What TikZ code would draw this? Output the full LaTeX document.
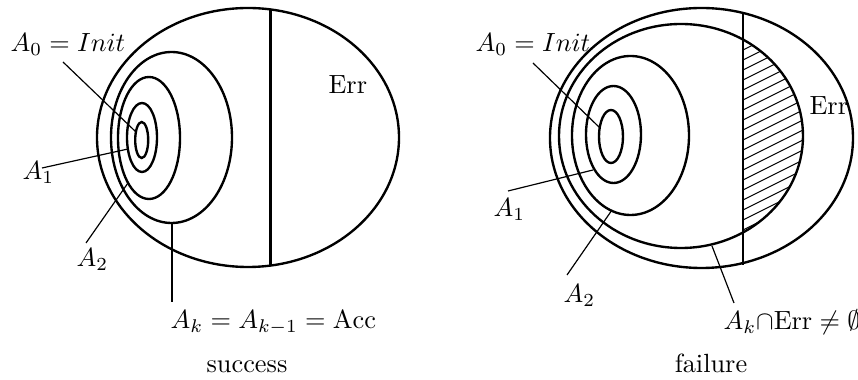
\documentclass[tikz,border=0pt]{standalone}
\begin{document}
\begin{tikzpicture}[x=0.38pt,y=-0.38pt,
  region/.style={line width=0.9pt},
  leader/.style={line width=0.45pt},
  lbl/.style={inner sep=0pt, anchor=base west},
  captxt/.style={inner sep=0pt, anchor=base},
  hatchline/.style={line width=0.4pt}]
\useasboundingbox (0,0) rectangle (858,380);
% ---------------- left: success ----------------
\draw[region] (248,137.5) ellipse [x radius=151, y radius=129.5];
\coordinate (lvtop) at (270.5,9.5);
\coordinate (lvbot) at (270.5,265.5);
\draw[region] (lvtop) -- (lvbot);
\draw[region] (171.5,137.5) ellipse [x radius=60.5, y radius=85.5];
\draw[region] (149,138) ellipse [x radius=31, y radius=61];
\draw[region] (142,137.5) ellipse [x radius=15, y radius=34.5];
\draw[region] (141.7,140) ellipse [x radius=6.5, y radius=18];
\node[lbl] (lA0) at (10,52) {$A_0 = Init$};
\node[lbl] (lA1) at (22,180) {$A_1$};
\node[lbl] (lA2) at (76,267) {$A_2$};
\node[lbl] (lAk) at (170,329) {$A_k = A_{k-1} = \mathrm{Acc}$};
\node[lbl] (lErr) at (328,94) {Err};
\node[captxt] (lcap) at (247,373) {success};
\coordinate (l0a) at (63,62);   \coordinate (l0b) at (136,132);
\coordinate (l1a) at (42,168);  \coordinate (l1b) at (128,149);
\coordinate (l2a) at (86,243);  \coordinate (l2b) at (128,183);
\coordinate (lka) at (172,223); \coordinate (lkb) at (172,302);
\draw[leader] (l0a) -- (l0b);
\draw[leader] (l1a) -- (l1b);
\draw[leader] (l2a) -- (l2b);
\draw[leader] (lka) -- (lkb);
% ---------------- right: failure ----------------
\begin{scope}
  \clip (743,0) rectangle (900,380);
  \clip (681,136) ellipse [x radius=122, y radius=112];
  \foreach \k in {-3,...,32} {
    \draw[hatchline] (743,50+10*\k) -- (830,50+10*\k-43.5);
  }
\end{scope}
\draw[region] (701.5,138) ellipse [x radius=151.5, y radius=130];
\draw[region] (681,136) ellipse [x radius=122, y radius=112];
\draw[region] (630.5,135.5) ellipse [x radius=58.5, y radius=79.5];
\draw[region] (613.5,134.5) ellipse [x radius=27.5, y radius=48.5];
\draw[region] (611,136.5) ellipse [x radius=12, y radius=26.5];
\coordinate (rvtop) at (743,13);
\coordinate (rvbot) at (743,265);
\draw[region] (rvtop) -- (rvbot);
\node[lbl] (rA0) at (475,52) {$A_0 = Init$};
\node[lbl] (rA1) at (493,217) {$A_1$};
\node[lbl] (rA2) at (563,303) {$A_2$};
\node[lbl] (rAk) at (723,330) {$A_k{\cap}\mathrm{Err} \neq \emptyset$};
\node[lbl] (rErr) at (809,115) {Err};
\node[captxt] (rcap) at (711,373) {failure};
\coordinate (r0a) at (533,63);  \coordinate (r0b) at (600,128);
\coordinate (r1a) at (508,191); \coordinate (r1b) at (593,170);
\coordinate (r2a) at (567,275); \coordinate (r2b) at (612,210);
\coordinate (rka) at (712,246); \coordinate (rkb) at (734,303);
\draw[leader] (r0a) -- (r0b);
\draw[leader] (r1a) -- (r1b);
\draw[leader] (r2a) -- (r2b);
\draw[leader] (rka) -- (rkb);
\end{tikzpicture}
\end{document}
